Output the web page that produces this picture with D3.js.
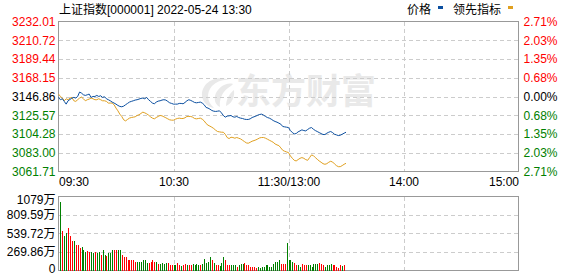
<!DOCTYPE html>
<html>
<head>
<meta charset="utf-8">
<script src="https://cdn.jsdelivr.net/npm/d3@7"></script>
<style>
  body { margin: 0; background: #fff; }
  text { font-family: "Liberation Sans", "Noto Sans CJK SC", sans-serif; }
</style>
</head>
<body>
<div id="chart-area"></div>
<script>
// 上证指数 分时 2022-05-24
var prevClose = 3146.86

var timeTicks = [0, 60, 120, 180, 240]
var timeLabels = ["09:30", "10:30", "11:30/13:00", "14:00", "15:00"]
var priceTicks = [3232.01, 3210.72, 3189.44, 3168.15, 3146.86, 3125.57, 3104.28, 3083.00, 3061.71]
var volTicks = [0, 269.86, 539.72, 809.59, 1079]

// price per minute, 09:30 .. 13:30
var price = [
  3145.8,3143.2,3144.3,3141.3,3138.2,3142.0,3143.5,3145.1,3145.8,3145.1,
  3146.9,3151.9,3150.7,3148.8,3148.1,3148.8,3149.6,3145.8,3146.9,3146.9,
  3148.1,3146.9,3147.7,3145.8,3146.6,3144.3,3143.2,3142.0,3140.5,3139.4,
  3138.2,3136.7,3135.6,3135.2,3135.9,3137.5,3139.0,3140.5,3141.3,3142.0,
  3142.8,3143.2,3143.9,3144.7,3145.1,3144.3,3145.8,3143.2,3141.3,3139.4,
  3138.6,3140.5,3141.6,3142.0,3142.8,3143.2,3142.8,3141.3,3139.7,3139.0,
  3138.2,3138.2,3138.2,3139.0,3139.0,3138.6,3140.1,3142.0,3143.2,3142.4,
  3141.3,3140.1,3139.7,3140.1,3140.5,3139.4,3137.5,3134.4,3133.7,3132.5,
  3131.0,3130.2,3129.9,3130.2,3130.6,3128.3,3125.3,3123.4,3124.6,3124.9,
  3125.3,3123.8,3123.4,3124.2,3123.0,3122.3,3121.9,3121.1,3120.8,3120.8,
  3121.5,3123.0,3123.8,3124.6,3125.7,3126.5,3126.8,3125.7,3124.2,3123.0,
  3122.3,3121.1,3119.6,3118.5,3117.7,3116.6,3115.4,3112.8,3112.4,3112.0,
  3111.6,3108.2,3105.9,3104.4,3104.8,3106.7,3107.8,3109.0,3108.2,3107.8,
  3109.4,3110.9,3111.6,3109.7,3108.2,3107.1,3105.9,3104.8,3103.7,3103.7,
  3105.2,3106.3,3107.1,3105.9,3104.0,3103.3,3102.5,3102.9,3104.0,3105.2,
  3106.3
]

// 领先指标
var lead = [
  3149.6,3146.9,3145.1,3142.0,3144.3,3143.2,3145.1,3145.8,3142.0,3141.3,
  3143.2,3145.1,3146.2,3144.3,3142.0,3143.2,3143.9,3145.1,3144.3,3143.2,
  3143.2,3144.3,3143.2,3142.0,3142.0,3141.3,3139.4,3139.4,3139.4,3137.5,
  3133.7,3130.6,3126.8,3124.2,3120.4,3119.2,3120.8,3122.3,3123.0,3123.4,
  3123.8,3125.3,3126.1,3127.6,3129.1,3128.3,3127.2,3125.7,3123.8,3122.3,
  3121.5,3123.0,3124.2,3125.3,3124.9,3123.8,3122.7,3121.5,3120.4,3120.0,
  3120.0,3121.1,3121.9,3122.3,3121.9,3121.9,3122.7,3124.2,3124.2,3124.2,
  3123.4,3121.9,3121.5,3121.9,3122.3,3121.1,3119.2,3116.2,3114.3,3113.2,
  3112.0,3110.5,3108.6,3107.1,3106.7,3106.3,3106.3,3104.0,3100.3,3099.1,
  3100.6,3100.3,3099.5,3100.3,3099.5,3098.7,3097.2,3095.7,3094.2,3093.8,
  3094.9,3096.1,3096.8,3097.6,3098.7,3099.9,3100.3,3100.3,3099.5,3098.4,
  3097.2,3096.1,3094.9,3093.0,3091.9,3091.1,3088.5,3085.8,3084.7,3083.9,
  3083.2,3079.4,3076.7,3074.4,3073.7,3075.2,3076.7,3077.5,3076.7,3075.2,
  3074.4,3077.5,3080.5,3079.7,3077.5,3075.6,3073.7,3072.2,3070.6,3069.9,
  3070.6,3072.2,3073.3,3072.5,3070.3,3068.4,3067.2,3067.2,3068.4,3069.9,
  3071.0
]

// volume (万) minute 1 .. 150
var vol = [
  996,583,510,544,617,496,437,423,365,379,
  326,340,292,267,282,267,277,253,267,258,
  267,233,292,219,209,258,253,292,306,292,
  292,292,219,190,190,146,146,146,160,131,
  131,131,131,146,146,112,107,131,146,131,
  122,97,97,112,97,107,107,87,87,73,
  73,107,87,63,87,102,73,73,73,97,
  73,97,83,73,92,170,
  107,122,190,146,112,83,73,63,112,
  204,146,87,73,73,73,73,58,87,102,
  102,112,73,73,58,58,44,34,44,34,
  44,44,87,73,58,58,102,126,131,146,
  102,102,102,408,146,146,131,112,83,73,
  58,97,87,87,87,73,49,97,97,97,
  112,97,87,58,83,83,97,83,73,49,
  34,73,63,73
]
// 1 = up (red), 0 = down (green)
var volUp = [
  0,1,0,0,1,1,1,0,1,1,
  1,0,0,0,1,1,0,0,1,0,
  0,1,0,0,1,0,0,0,1,1,
  0,0,1,1,1,1,1,1,1,1,
  0,0,0,0,0,0,1,1,1,1,
  0,1,0,0,0,0,1,1,1,0,
  0,1,1,0,1,1,0,1,1,0,
  0,0,0,1,0,0,
  0,0,0,1,0,1,1,0,0,
  0,1,1,1,0,0,0,1,0,0,
  0,1,1,1,1,1,1,1,0,0,
  0,0,0,0,0,0,0,0,0,0,
  1,1,1,0,0,0,0,1,1,0,
  0,1,1,1,0,0,0,0,0,0,
  1,1,1,0,0,0,0,1,1,1,
  1,1,0,1
]

var W = 578, H = 276
var L = 58.5, R = 518.5
var mainTop = 21.5, mainBot = 171.5
var volTop = 196.5, volBot = 270.5
var red = "#ff0000", green = "#008000"
var gridColor = "#cccccc", borderColor = "#999999"

var svg = d3.select("#chart-area").append("svg")
    .attr("width", W)
    .attr("height", H)

var x = d3.scaleLinear().domain([0, 240]).range([L, R])
var y = d3.scaleLinear().domain([3061.71, 3232.01]).range([mainBot, mainTop])
var yv = d3.scaleLinear().domain([0, 1079]).range([volBot, volTop])

// watermark
var wm = svg.append("g").attr("fill", "#e9e9e9")
wm.append("path")
    .attr("d", "M230,80 C214,74 201,84 202,96 C203,103 208,107 214,108 C207,102 206,93 212,86 C217,81 224,79 230,80 Z")
wm.append("path")
    .attr("d", "M233,84 C226,82 217,88 215,96 C214,101 216,105 220,107 C219,100 222,92 228,88 C230,87 232,85 233,84 Z")
wm.append("path")
    .attr("d", "M234,90 C230,93 226,99 226,106 C231,104 235,98 234,90 Z")
wm.append("text")
    .attr("x", 236)
    .attr("y", 104)
    .attr("font-size", "35px")
    .attr("font-weight", "bold")
    .attr("font-family", "Noto Sans CJK SC")
    .text("东方财富")

// grids
function hgrid(scale, values) {
  return svg.append("g")
    .selectAll("line")
    .data(values).enter().append("line")
      .attr("x1", L).attr("x2", R)
      .attr("y1", d => Math.round(scale(d)) + 0.5)
      .attr("y2", d => Math.round(scale(d)) + 0.5)
      .attr("stroke", gridColor)
      .attr("stroke-dasharray", "4,3")
      .attr("shape-rendering", "crispEdges")
}
hgrid(y, priceTicks.slice(1, -1))
hgrid(yv, volTicks.slice(1, -1))

var vgrid = timeTicks.slice(1, -1)
;[[mainTop, mainBot], [volTop, volBot]].forEach(function(r) {
  svg.append("g").selectAll("line")
    .data(vgrid).enter().append("line")
      .attr("x1", d => Math.round(x(d)) + 0.5)
      .attr("x2", d => Math.round(x(d)) + 0.5)
      .attr("y1", r[0]).attr("y2", r[1])
      .attr("stroke", gridColor)
      .attr("stroke-dasharray", "4,3")
      .attr("shape-rendering", "crispEdges")
})

// borders
;[[mainTop, mainBot], [volTop, volBot]].forEach(function(r) {
  svg.append("rect")
    .attr("x", L).attr("y", r[0])
    .attr("width", R - L).attr("height", r[1] - r[0])
    .attr("fill", "none")
    .attr("stroke", borderColor)
    .attr("shape-rendering", "crispEdges")
})

// lines
var line = d3.line()
    .x((d, i) => x(i))
    .y(d => y(d))

svg.append("path")
    .datum(lead)
    .attr("d", line)
    .attr("fill", "none")
    .attr("stroke", "#e0a020")
    .attr("stroke-width", 1)

svg.append("path")
    .datum(price)
    .attr("d", line)
    .attr("fill", "none")
    .attr("stroke", "#0b4fa0")
    .attr("stroke-width", 1)

// volume bars
svg.append("g")
    .selectAll("rect")
    .data(vol).enter().append("rect")
      .attr("x", (d, i) => Math.round(x(i + 1)) - 0.5)
      .attr("y", d => yv(d))
      .attr("width", 1)
      .attr("height", d => volBot - yv(d))
      .attr("fill", (d, i) => volUp[i] ? red : green)
      .attr("shape-rendering", "crispEdges")

// axes
function labelColor(d) {
  if (Math.abs(d - prevClose) < 0.005) return "#000"
  return d > prevClose ? red : green
}

var leftAxis = d3.axisLeft(y)
    .tickValues(priceTicks)
    .tickSize(0)
    .tickPadding(3)
    .tickFormat(d3.format(".2f"))

var gl = svg.append("g")
    .attr("transform", "translate(" + L + ",0)")
    .call(leftAxis)
gl.select(".domain").remove()
gl.selectAll("text")
    .attr("font-size", "12px")
    .attr("font-family", "Liberation Sans")
    .attr("fill", labelColor)

var rightAxis = d3.axisRight(y)
    .tickValues(priceTicks)
    .tickSize(0)
    .tickPadding(5)
    .tickFormat(d => d3.format(".2f")(Math.abs(d - prevClose) / prevClose * 100) + "%")

var gr = svg.append("g")
    .attr("transform", "translate(" + R + ",0)")
    .call(rightAxis)
gr.select(".domain").remove()
gr.selectAll("text")
    .attr("font-size", "12px")
    .attr("font-family", "Liberation Sans")
    .attr("fill", labelColor)

var bottomAxis = d3.axisBottom(x)
    .tickValues(timeTicks)
    .tickSize(0)
    .tickPadding(6)
    .tickFormat((d, i) => timeLabels[i])

var gb = svg.append("g")
    .attr("transform", "translate(0," + mainBot + ")")
    .call(bottomAxis)
gb.select(".domain").remove()
gb.selectAll("text")
    .attr("font-size", "12px")
    .attr("font-family", "Liberation Sans")
    .attr("fill", "#000")
    .attr("text-anchor", (d, i) => i == 0 ? "start" : (i == timeTicks.length - 1 ? "end" : "middle"))

var volAxis = d3.axisLeft(yv)
    .tickValues(volTicks)
    .tickSize(0)
    .tickPadding(3)
    .tickFormat(d => d == 0 ? "0" : d + "万")

var gv = svg.append("g")
    .attr("transform", "translate(" + L + ",0)")
    .call(volAxis)
gv.select(".domain").remove()
gv.selectAll("text")
    .attr("font-size", "12px")
    .attr("font-family", "Liberation Sans, Noto Sans CJK SC")
    .attr("fill", "#000")
    .attr("dy", d => d == 1079 ? "0.62em" : (d == 0 ? "0.2em" : "0.32em"))

// title + legend
svg.append("text")
    .attr("x", 59)
    .attr("y", 14)
    .attr("font-size", "12px")
    .attr("font-family", "Liberation Sans, Noto Sans CJK SC")
    .text("上证指数[000001] 2022-05-24 13:30")

var legend = [
  {name: "价格", color: "#0b4fa0", tx: 407, rx: 438},
  {name: "领先指标", color: "#e0a020", tx: 453, rx: 508}
]
legend.forEach(function(l) {
  svg.append("text")
    .attr("x", l.tx).attr("y", 14)
    .attr("font-size", "12px")
    .attr("font-family", "Noto Sans CJK SC")
    .text(l.name)
  svg.append("rect")
    .attr("x", l.rx).attr("y", 6)
    .attr("width", 5).attr("height", 3)
    .attr("fill", l.color)
})
</script>
</body>
</html>
